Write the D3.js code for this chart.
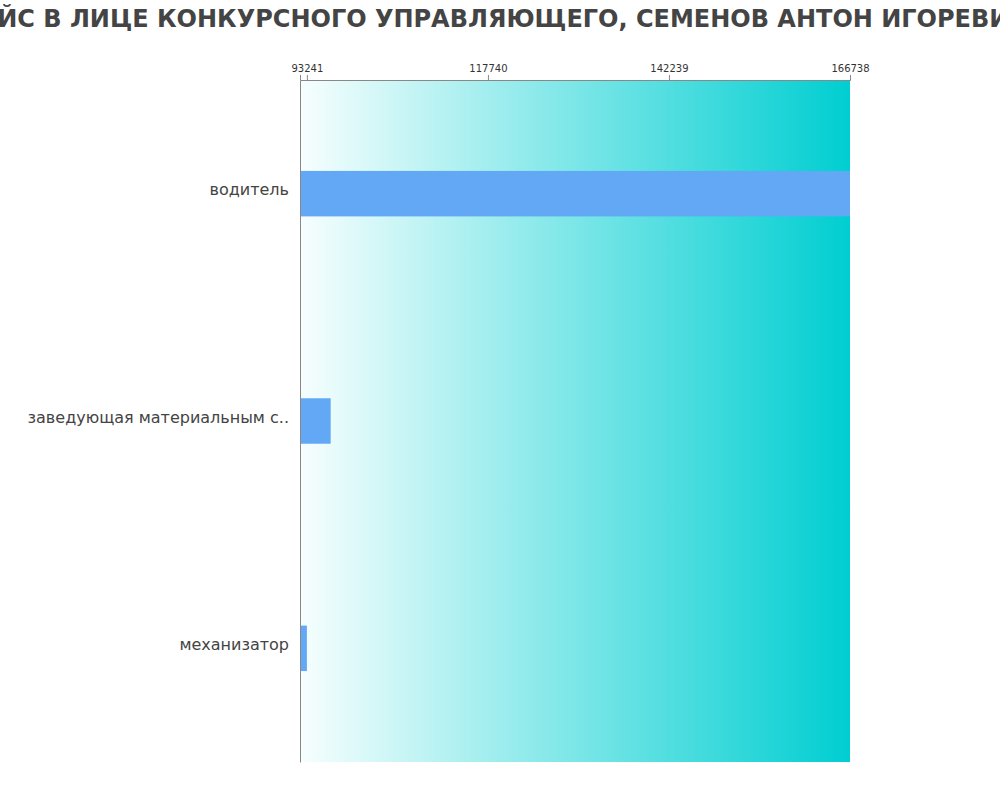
<!DOCTYPE html>
<html><head><meta charset="utf-8">
<script src="https://cdn.jsdelivr.net/npm/d3@7"></script>
<style>body{margin:0;background:#fff;}svg{display:block;font-family:"DejaVu Sans",sans-serif;}</style>
</head><body>
<svg id="c" width="1000" height="800"></svg>
<script>
const titleText = "ЙС В ЛИЦЕ КОНКУРСНОГО УПРАВЛЯЮЩЕГО, СЕМЕНОВ АНТОН ИГОРЕВИЧ";
const categories = ["водитель", "заведующая материальным складом", "механизатор"];
const values = [166738, 96460, 93241];
const tickValues = [93241, 117740, 142239, 166738];

const svg = d3.select("#c");
const m = {left: 300, right: 150, top: 80, bottom: 38};
const W = 1000, H = 800;
const iw = W - m.left - m.right, ih = H - m.top - m.bottom;

const defs = svg.append("defs");
const grad = defs.append("linearGradient").attr("id", "bg").attr("x1", "0%").attr("x2", "100%").attr("y1", "0%").attr("y2", "0%");
grad.append("stop").attr("offset", "0%").attr("stop-color", "#f7fefe");
grad.append("stop").attr("offset", "100%").attr("stop-color", "#00ced1");

svg.append("text").attr("x", 513).attr("y", 27).attr("text-anchor", "middle")
  .attr("font-size", 24).attr("font-weight", "bold").attr("fill", "#444").text(titleText);

const g = svg.append("g").attr("transform", `translate(${m.left},${m.top})`);
const minV = d3.min(values), maxV = d3.max(values);
const x = d3.scaleLinear().domain([minV * 0.99, maxV]).range([0, iw]);
const y = d3.scaleBand().domain(categories).range([0, ih]).paddingInner(0.8).paddingOuter(0.4);

g.append("rect").attr("x", 0).attr("y", 0).attr("width", iw).attr("height", ih).attr("fill", "url(#bg)");

g.selectAll("rect.bar").data(values).join("rect").attr("class", "bar")
  .attr("x", 0).attr("y", (d, i) => y(categories[i]))
  .attr("width", d => x(d)).attr("height", y.bandwidth()).attr("fill", "#62a8f5");

const xa = g.append("g").call(d3.axisTop(x).tickValues(tickValues).tickFormat(d3.format("d")).tickSize(5));
xa.select(".domain").attr("stroke", "#888");
xa.selectAll(".tick line").attr("stroke", "#888");
xa.selectAll(".tick text").attr("fill", "#333").attr("font-size", 10).attr("font-family", "DejaVu Sans");

const trunc = s => s.length > 25 ? s.slice(0, 25) + ".." : s;
const ya = g.append("g").call(d3.axisLeft(y).tickSize(0).tickPadding(11).tickFormat(trunc));
ya.select(".domain").attr("stroke", "#888");
ya.selectAll(".tick text").attr("fill", "#444").attr("font-size", 16).attr("font-family", "DejaVu Sans").attr("dy", "0.1em");
</script>
</body></html>
